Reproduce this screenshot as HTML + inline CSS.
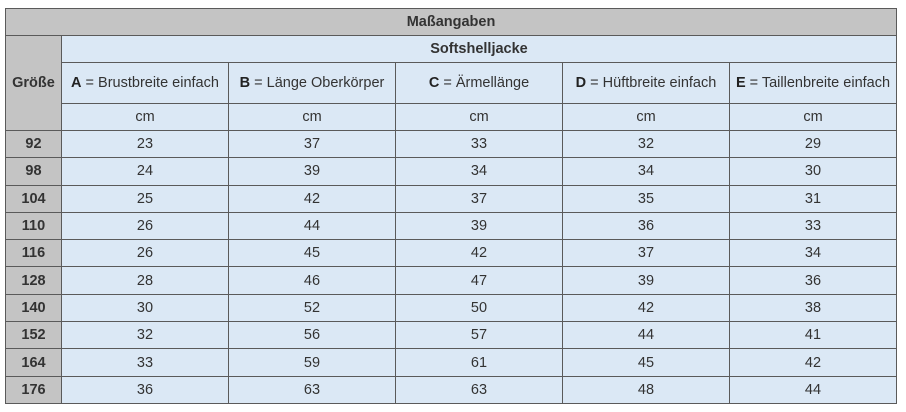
<!DOCTYPE html>
<html><head><meta charset="utf-8"><style>
body{margin:0;background:#fff;width:906px;height:412px;overflow:hidden;font-family:"Liberation Sans",sans-serif;}
table{position:absolute;left:5px;top:8px;border-collapse:collapse;table-layout:fixed;font-size:14.5px;color:#333;}
td{border:1.5px solid #5a5a5a;text-align:center;padding:0;background:#dbe8f5;white-space:nowrap;}
.g{background:#c4c4c4;font-weight:bold;color:#333;}
b{color:#222}
</style></head><body>
<table>
<colgroup><col style="width:56px"><col style="width:167px"><col style="width:167px"><col style="width:167px"><col style="width:167px"><col style="width:167px"></colgroup>
<tr style="height:27px"><td class="g" colspan="6">Maßangaben</td></tr>
<tr style="height:27px"><td class="g" rowspan="3">Größe</td><td colspan="5" style="font-weight:bold">Softshelljacke</td></tr>
<tr style="height:41px"><td><b>A</b> = Brustbreite einfach</td><td><b>B</b> = Länge Oberkörper</td><td><b>C</b> = Ärmellänge</td><td><b>D</b> = Hüftbreite einfach</td><td><b>E</b> = Taillenbreite einfach</td></tr>
<tr style="height:27px"><td>cm</td><td>cm</td><td>cm</td><td>cm</td><td>cm</td></tr>
<tr style="height:27.3px"><td class="g">92</td><td>23</td><td>37</td><td>33</td><td>32</td><td>29</td></tr>
<tr style="height:27.3px"><td class="g">98</td><td>24</td><td>39</td><td>34</td><td>34</td><td>30</td></tr>
<tr style="height:27.3px"><td class="g">104</td><td>25</td><td>42</td><td>37</td><td>35</td><td>31</td></tr>
<tr style="height:27.3px"><td class="g">110</td><td>26</td><td>44</td><td>39</td><td>36</td><td>33</td></tr>
<tr style="height:27.3px"><td class="g">116</td><td>26</td><td>45</td><td>42</td><td>37</td><td>34</td></tr>
<tr style="height:27.3px"><td class="g">128</td><td>28</td><td>46</td><td>47</td><td>39</td><td>36</td></tr>
<tr style="height:27.3px"><td class="g">140</td><td>30</td><td>52</td><td>50</td><td>42</td><td>38</td></tr>
<tr style="height:27.3px"><td class="g">152</td><td>32</td><td>56</td><td>57</td><td>44</td><td>41</td></tr>
<tr style="height:27.3px"><td class="g">164</td><td>33</td><td>59</td><td>61</td><td>45</td><td>42</td></tr>
<tr style="height:27.3px"><td class="g">176</td><td>36</td><td>63</td><td>63</td><td>48</td><td>44</td></tr>
</table>
</body></html>
